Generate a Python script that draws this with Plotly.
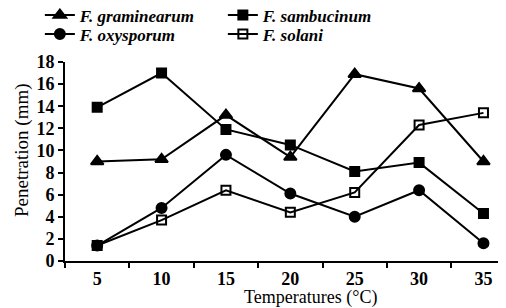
import plotly.graph_objects as go

temps = ["5", "10", "15", "20", "25", "30", "35"]
graminearum = [9.0, 9.2, 13.2, 9.4, 16.9, 15.6, 9.0]
sambucinum = [13.9, 17.0, 11.9, 10.5, 8.1, 8.9, 4.3]
oxysporum = [1.4, 4.8, 9.6, 6.1, 4.0, 6.4, 1.6]
solani = [1.4, 3.7, 6.4, 4.4, 6.2, 12.3, 13.4]
y_ticks = [0, 2, 4, 6, 8, 10, 12, 14, 16, 18]

series = [
    ("F. graminearum", graminearum, "triangle-up", 11, "legend"),
    ("F. sambucinum", sambucinum, "square", 9, "legend"),
    ("F. oxysporum", oxysporum, "circle", 10, "legend2"),
    ("F. solani", solani, "square-open", 9, "legend2"),
]

fig = go.Figure()
for name, vals, sym, sz, lg in series:
    fig.add_trace(go.Scatter(
        x=temps, y=vals, name=name, mode="lines+markers", legend=lg,
        line=dict(color="black", width=2),
        marker=dict(symbol=sym, size=sz, color="black",
                    line=dict(color="black", width=2)),
    ))

font = "Liberation Serif"
legend_common = dict(
    orientation="h", x=-0.057, xanchor="left", yanchor="middle",
    entrywidth=138, entrywidthmode="pixels",
    font=dict(family=font, size=17, style="italic", weight="bold"),
    itemwidth=30, tracegroupgap=0, bgcolor="rgba(0,0,0,0)",
)
fig.update_layout(
    width=498, height=300,
    margin=dict(l=57, r=0, t=54, b=47, autoexpand=False),
    paper_bgcolor="white", plot_bgcolor="white",
    font=dict(family=font, color="black", size=18),
    showlegend=True,
    legend=dict(y=1.2337, **legend_common),
    legend2=dict(y=1.1382, **legend_common),
    xaxis=dict(
        type="category", range=[-0.5, 6.35], tickson="boundaries",
        automargin=False,
        showline=True, linecolor="black", linewidth=2,
        ticks="outside", ticklen=5, tickwidth=2, tickcolor="black",
        showgrid=False, zeroline=False,
        tickfont=dict(family=font, size=18, weight="bold"),
    ),
    yaxis=dict(
        range=[0, 18], tickvals=y_ticks, automargin=False,
        showline=True, linecolor="black", linewidth=2,
        ticks="outside", ticklen=5, tickwidth=2, tickcolor="black",
        showgrid=False, zeroline=False,
        tickfont=dict(family=font, size=18, weight="bold"),
    ),
    annotations=[
        dict(text="Temperatures (°C)", xref="paper", yref="paper",
             x=0.5556, y=-0.181, xanchor="center", yanchor="middle",
             showarrow=False, font=dict(family=font, size=18)),
        dict(text="Penetration (mm)", xref="paper", yref="paper",
             x=-0.0975, y=0.558, xanchor="center", yanchor="middle",
             textangle=-90, showarrow=False, font=dict(family=font, size=19)),
    ],
)

fig.write_html("out.html")
